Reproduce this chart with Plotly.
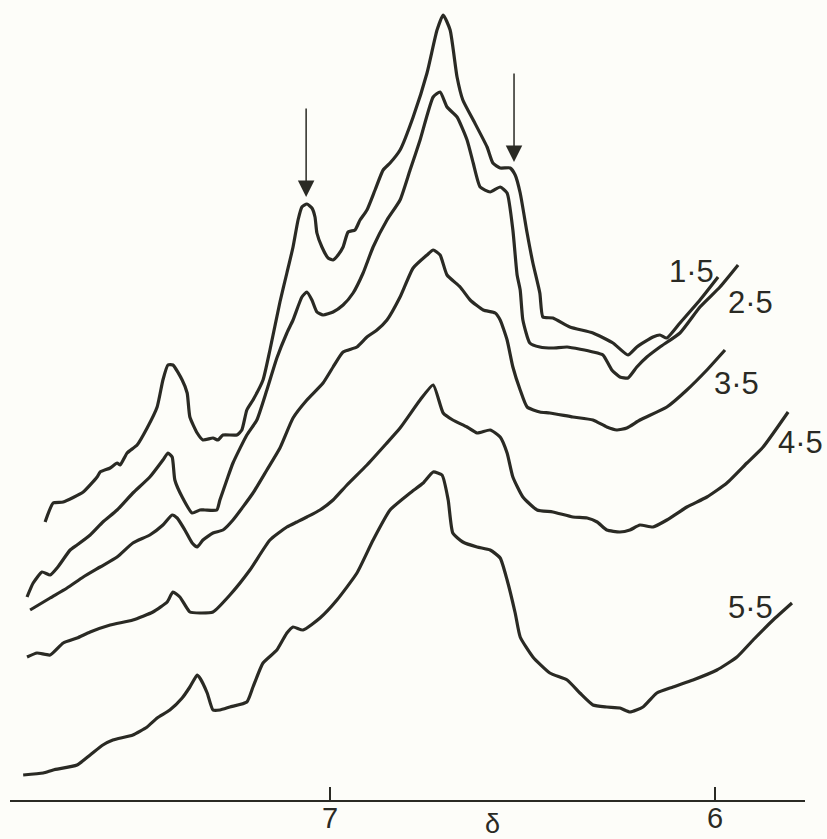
import plotly.graph_objects as go

# chemical shift (ppm) and relative intensity for each trace, labelled by pH
x_15 = [7.740, 7.719, 7.693, 7.641, 7.605, 7.597, 7.571, 7.553, 7.545, 7.527, 7.501, 7.475, 7.449, 7.434,
        7.421, 7.408, 7.384, 7.371, 7.364, 7.345, 7.330, 7.304, 7.291, 7.278, 7.242, 7.229, 7.216, 7.200,
        7.174, 7.156, 7.130, 7.112, 7.096, 7.083, 7.073, 7.060, 7.047, 7.039, 7.034, 7.021, 7.005, 6.992,
        6.979, 6.966, 6.953, 6.935, 6.922, 6.904, 6.883, 6.862, 6.844, 6.818, 6.784, 6.748, 6.722, 6.706,
        6.688, 6.670, 6.655, 6.628, 6.592, 6.577, 6.558, 6.532, 6.519, 6.506, 6.488, 6.473, 6.455, 6.447,
        6.421, 6.377, 6.317, 6.265, 6.226, 6.203, 6.161, 6.143, 6.125, 6.091, 6.039, 5.992]
y_15 = [278, 297, 298, 308, 323, 328, 332, 337, 335, 347, 355, 372, 393, 420,
        435, 435, 420, 407, 383, 367, 360, 362, 360, 365, 365, 370, 390, 400,
        420, 450, 498, 527, 553, 580, 593, 596, 592, 583, 567, 553, 542, 540,
        545, 553, 568, 570, 580, 590, 610, 630, 637, 650, 683, 727, 770, 785,
        770, 723, 700, 680, 653, 637, 632, 632, 625, 607, 567, 537, 507, 483,
        482, 473, 467, 457, 445, 453, 463, 465, 462, 477, 500, 523]

x_25 = [7.787, 7.771, 7.748, 7.727, 7.707, 7.675, 7.657, 7.623, 7.590, 7.553, 7.512, 7.468, 7.434, 7.421,
        7.410, 7.403, 7.384, 7.358, 7.338, 7.325, 7.294, 7.286, 7.268, 7.252, 7.216, 7.190, 7.164, 7.138,
        7.112, 7.096, 7.073, 7.060, 7.047, 7.034, 7.018, 6.992, 6.966, 6.940, 6.914, 6.888, 6.852, 6.818,
        6.792, 6.766, 6.732, 6.714, 6.696, 6.670, 6.644, 6.628, 6.610, 6.584, 6.558, 6.540, 6.525, 6.514,
        6.506, 6.499, 6.481, 6.455, 6.421, 6.384, 6.317, 6.291, 6.268, 6.247, 6.226, 6.203, 6.177, 6.143,
        6.091, 6.039, 5.987, 5.940]
y_25 = [203, 217, 228, 225, 233, 250, 255, 265, 278, 290, 307, 323, 340, 347,
        343, 320, 303, 287, 290, 290, 290, 300, 320, 337, 365, 380, 410, 442,
        467, 480, 503, 508, 500, 488, 485, 488, 495, 507, 527, 553, 580, 600,
        630, 660, 703, 708, 693, 683, 660, 637, 613, 608, 613, 607, 570, 525,
        510, 480, 457, 453, 452, 453, 448, 445, 430, 423, 422, 433, 443, 453,
        467, 493, 513, 535]

x_35 = [7.779, 7.727, 7.683, 7.641, 7.597, 7.553, 7.512, 7.468, 7.434, 7.410, 7.397, 7.377, 7.358, 7.345,
        7.330, 7.304, 7.278, 7.252, 7.200, 7.164, 7.130, 7.096, 7.060, 7.018, 6.992, 6.966, 6.930, 6.904,
        6.878, 6.852, 6.818, 6.784, 6.748, 6.732, 6.714, 6.696, 6.662, 6.636, 6.602, 6.571, 6.558, 6.540,
        6.525, 6.506, 6.488, 6.455, 6.429, 6.369, 6.317, 6.281, 6.255, 6.229, 6.195, 6.125, 6.073, 6.021,
        5.974]
y_35 = [190, 202, 212, 223, 233, 243, 257, 265, 275, 285, 282, 270, 257, 253,
        260, 267, 270, 280, 307, 330, 352, 382, 400, 417, 433, 448, 453, 463,
        470, 480, 503, 532, 545, 550, 545, 525, 513, 500, 490, 487, 480, 460,
        433, 410, 393, 388, 387, 383, 380, 373, 370, 372, 380, 393, 410, 430,
        450]

x_45 = [7.787, 7.761, 7.727, 7.693, 7.657, 7.623, 7.571, 7.512, 7.460, 7.423, 7.408, 7.390, 7.364, 7.338,
        7.304, 7.260, 7.208, 7.156, 7.112, 7.086, 7.060, 7.026, 6.992, 6.956, 6.904, 6.857, 6.818, 6.766,
        6.732, 6.706, 6.681, 6.644, 6.618, 6.584, 6.558, 6.540, 6.525, 6.499, 6.462, 6.421, 6.369, 6.332,
        6.306, 6.281, 6.247, 6.221, 6.195, 6.161, 6.125, 6.073, 6.021, 5.969, 5.917, 5.875, 5.810]
y_45 = [143, 147, 145, 157, 162, 168, 175, 180, 188, 198, 208, 203, 188, 187,
        188, 205, 230, 260, 273, 278, 283, 290, 300, 315, 335, 355, 372, 400,
        415, 387, 380, 373, 367, 370, 363, 347, 323, 303, 290, 288, 283, 282,
        278, 270, 268, 270, 275, 273, 280, 293, 303, 317, 337, 353, 388]

x_55 = [7.797, 7.745, 7.719, 7.657, 7.623, 7.590, 7.564, 7.512, 7.475, 7.449, 7.416, 7.384, 7.364, 7.345,
        7.338, 7.319, 7.304, 7.286, 7.260, 7.216, 7.200, 7.174, 7.138, 7.112, 7.096, 7.070, 7.026, 6.982,
        6.930, 6.888, 6.844, 6.792, 6.758, 6.732, 6.709, 6.693, 6.681, 6.655, 6.618, 6.584, 6.558, 6.540,
        6.519, 6.506, 6.473, 6.429, 6.384, 6.351, 6.317, 6.281, 6.247, 6.221, 6.187, 6.151, 6.109, 6.057,
        5.995, 5.943, 5.901, 5.849, 5.800]
y_55 = [25, 27, 30, 35, 45, 55, 60, 65, 73, 82, 90, 102, 113, 125,
        122, 107, 90, 90, 93, 98, 113, 137, 150, 167, 173, 170, 182, 200,
        227, 260, 290, 307, 317, 328, 325, 300, 267, 258, 253, 250, 242, 220,
        187, 163, 143, 127, 120, 107, 95, 93, 92, 88, 93, 107, 113, 120,
        130, 143, 160, 180, 197]

trace_labels = ["1·5", "2·5", "3·5", "4·5", "5·5"]
label_x = [6.060, 5.909, 5.943, 5.779, 5.909]
label_y = [529, 498, 417, 358, 193]

arrow_x = [7.062, 6.522]
arrow_y = [603, 638]

tick_vals = [7, 6]
tick_text = ["7", "6"]
axis_title = "δ"
axis_title_x = 6.579

ink = "#2a2a24"
bg = "#fdfdf9"
font_family = "Liberation Sans, Arial, sans-serif"

fig = go.Figure()
for xs, ys in [(x_15, y_15), (x_25, y_25), (x_35, y_35), (x_45, y_45), (x_55, y_55)]:
    fig.add_trace(go.Scatter(x=xs, y=ys, mode="lines",
                             line=dict(color=ink, width=3.2, shape="spline", smoothing=0.5),
                             hoverinfo="skip", showlegend=False))

annotations = []
for t, lx, ly in zip(trace_labels, label_x, label_y):
    annotations.append(dict(x=lx, y=ly, xref="x", yref="y", text=t, showarrow=False,
                            font=dict(family=font_family, size=31, color=ink),
                            xanchor="center", yanchor="middle"))
for ax_, ay_ in zip(arrow_x, arrow_y):
    annotations.append(dict(x=ax_, y=ay_, xref="x", yref="y", text="", showarrow=True,
                            ax=0, ay=-90, arrowhead=2, arrowsize=2.2, arrowwidth=1.5,
                            arrowcolor=ink, standoff=0))
# tick labels drawn just under the axis line
for tv, tt in zip(tick_vals, tick_text):
    annotations.append(dict(x=tv, y=-0.023, xref="x", yref="paper", text=tt, showarrow=False,
                            font=dict(family=font_family, size=29, color=ink),
                            xanchor="center", yanchor="middle"))
annotations.append(dict(x=axis_title_x, y=-0.03, xref="x", yref="paper", text=axis_title,
                        showarrow=False, font=dict(family=font_family, size=27, color=ink),
                        xanchor="center", yanchor="middle"))

fig.update_layout(
    width=827, height=839,
    margin=dict(l=10, r=22, t=0, b=39, autoexpand=False),
    paper_bgcolor=bg, plot_bgcolor=bg,
    annotations=annotations,
    xaxis=dict(range=[7.8312, 5.7662], showgrid=False, zeroline=False, automargin=False,
               showline=True, linecolor=ink, linewidth=2,
               ticks="inside", ticklen=13, tickwidth=2, tickcolor=ink,
               tickvals=tick_vals, showticklabels=False),
    yaxis=dict(range=[0, 800], visible=False, showgrid=False, zeroline=False, automargin=False),
)

fig.write_html("out.html")
